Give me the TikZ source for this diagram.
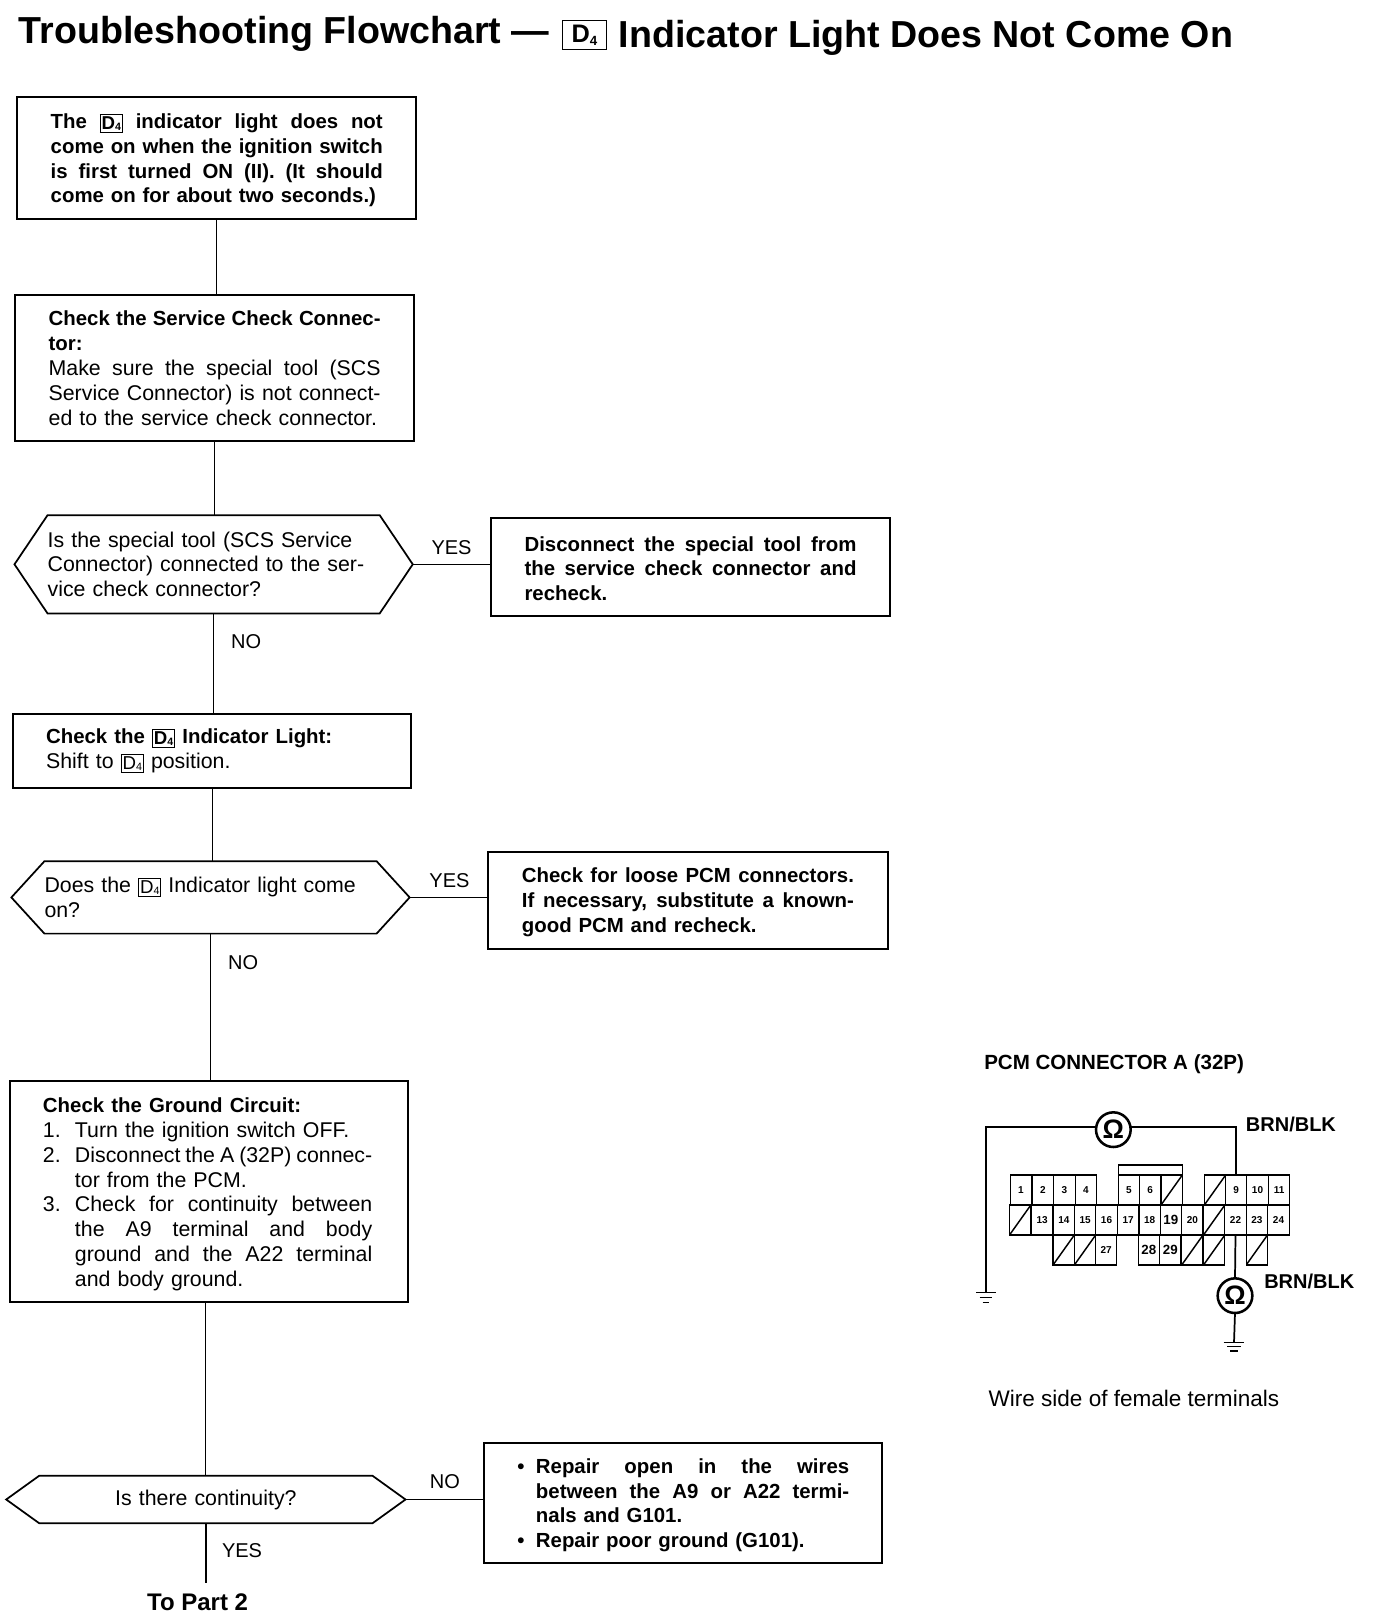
\documentclass[tikz,border=0pt]{standalone}
\usepackage{fontspec}
\setmainfont{Liberation Sans}
\usetikzlibrary{calc}
\newcommand\jl[2][249pt]{\makebox[#1][s]{\spaceskip=0pt\xspaceskip=0pt #2}}
\newcommand\Dfour{{\setlength\fboxsep{0.6pt}\setlength\fboxrule{0.8pt}\smash{\raisebox{-0.6pt}{\fbox{\fontsize{14}{14}\selectfont\rule[-1.5pt]{0pt}{11.5pt}D\raisebox{-1pt}{\fontsize{8}{8}\selectfont 4}}}}}}
\newcommand\topadj[1]{\rule{0pt}{#1}}
\tikzset{
  wh/.style 2 args={minimum width=#1*0.77586pt,minimum height=#2*0.77586pt},
  frame/.style={draw,line width=1.4pt,inner sep=0pt,outer sep=0pt,text width=249pt,align=left,font=\fontsize{16}{18.6}\selectfont},
  boldframe/.style={frame,font=\fontsize{15.3}{18.6}\selectfont\bfseries},
  hexbody/.style={inner sep=0pt,outer sep=0pt,text width=249pt,align=left,font=\fontsize{16}{18.6}\selectfont},
  link/.style={line width=0.8pt},
  hexline/.style={line width=1.3pt},
  lab/.style={inner sep=0pt,anchor=center,font=\fontsize{15}{18}\selectfont},
  cell/.style={draw,line width=0.9pt,inner sep=0pt,outer sep=0pt,minimum width=16pt,minimum height=22.5pt,font=\fontsize{7.5}{8}\selectfont\bfseries},
  bigcell/.style={cell,font=\fontsize{10}{10}\selectfont\bfseries},
  slashed/.style={cell,path picture={\draw[line width=1.1pt] (path picture bounding box.south west)--(path picture bounding box.north east);}},
  wire/.style={line width=1.3pt},
  meter/.style={circle,draw,line width=1.9pt,inner sep=0pt,outer sep=0pt,minimum size=26pt,font=\fontsize{20}{20}\selectfont\bfseries},
  txt/.style={inner sep=0pt,anchor=west}
}
\newcommand\hexa[1]{\draw[hexline] (#1.west) -- ([xshift=24.8pt]#1.north west) -- ([xshift=-24.8pt]#1.north east) -- (#1.east) -- ([xshift=-24.8pt]#1.south east) -- ([xshift=24.8pt]#1.south west) -- cycle;}
\begin{document}
\begin{tikzpicture}[x=0.77586pt,y=-0.77586pt]
\path[fill=white,use as bounding box] (0,0) rectangle (1330.13,1566);
% title
\node[txt,font=\fontsize{28.2}{30}\selectfont\bfseries] (t1) at (18,33) {Troubleshooting Flowchart ---};
\node[draw,line width=0.9pt,inner sep=0pt,wh={42}{28},font=\fontsize{19}{20}\selectfont\bfseries] (t2) at (565,34) {D\raisebox{-2pt}{\fontsize{10}{10}\selectfont 4}};
\node[txt,font=\fontsize{28.2}{30}\selectfont\bfseries] (t3) at (598,36.5) {Indicator Light Does Not Come On};
% boxes
\node[boldframe,wh={386}{118}] (b1) at (209.5,152.5) {\topadj{15pt}\jl{The \Dfour{} indicator light does not}\\\jl{come on when the ignition switch}\\\jl{is first turned ON (II). (It should}\\come on for about two seconds.)};
\node[frame,wh={386}{141}] (b2) at (207.5,356) {\textbf{\jl{\fontsize{15.3}{18.6}\selectfont Check the Service Check Connec-}}\\\textbf{\fontsize{15.3}{18.6}\selectfont tor:}\\\jl{Make sure the special tool (SCS}\\\jl{Service Connector) is not connect-}\\ed to the service check connector.};
\node[hexbody,wh={385}{95}] (d1) at (206.5,545.5) {Is the special tool (SCS Service\\Connector) connected to the ser-\\vice check connector?};
\hexa{d1}
\node[boldframe,wh={385}{95}] (b3) at (667.5,548) {\topadj{13.5pt}\jl{Disconnect the special tool from}\\\jl{the service check connector and}\\recheck.};
\node[frame,wh={385}{71}] (b4) at (205,726) {\textbf{\fontsize{15.3}{18.6}\selectfont Check the \Dfour{} Indicator Light:}\\Shift to \Dfour{} position.};
\node[hexbody,wh={385}{70}] (d2) at (203.5,867.5) {Does the \Dfour{} Indicator light come\\on?};
\hexa{d2}
\node[boldframe,wh={386}{94}] (b5) at (665,870.5) {\topadj{13.5pt}\jl{Check for loose PCM connectors.}\\\jl{If necessary, substitute a known-}\\good PCM and recheck.};
\node[frame,wh={385}{214}] (b6) at (202,1152) {\topadj{15pt}\textbf{\fontsize{15.3}{18.6}\selectfont Check the Ground Circuit:}\\
\makebox[24pt][l]{1.}Turn the ignition switch OFF.\\
\makebox[24pt][l]{2.}\jl[223pt]{Disconnect the A (32P) connec-}\\
\hspace*{24pt}tor from the PCM.\\
\makebox[24pt][l]{3.}\jl[223pt]{Check for continuity between}\\
\hspace*{24pt}\jl[223pt]{the A9 terminal and body}\\
\hspace*{24pt}\jl[223pt]{ground and the A22 terminal}\\
\hspace*{24pt}and body ground.};
\node[hexbody,wh={386}{46},align=center] (d3) at (199,1449.5) {Is there continuity?};
\hexa{d3}
\node[boldframe,wh={385}{116}] (b7) at (660.5,1452.5) {\topadj{15pt}\makebox[14pt][l]{•}\jl[235pt]{Repair open in the wires}\\
\hspace*{14pt}\jl[235pt]{between the A9 or A22 termi-}\\
\hspace*{14pt}nals and G101.\\
\makebox[14pt][l]{•}Repair poor ground (G101).};
% connectors
\draw[link] (b1.south) -- (b1.south |- b2.north);
\draw[link] (b2.south) -- (b2.south |- d1.north);
\draw[link] (d1.south) -- (d1.south |- b4.north);
\draw[link] (b4.south) -- (b4.south |- d2.north);
\draw[link] (d2.south) -- (d2.south |- b6.north);
\draw[link] (d3.north |- b6.south) -- (d3.north);
\coordinate (endd3) at (199,1530);
\draw[line width=1.2pt] (d3.south) -- (endd3);
\draw[link] (d1.east) -- (d1.east -| b3.west);
\draw[link] (d2.east) -- (d2.east -| b5.west);
\draw[link] (d3.east) -- (d3.east -| b7.west);
% labels
\node[lab] (y1) at (436.5,529) {YES};
\node[lab] (n1) at (238,620) {NO};
\node[lab] (y2) at (434.5,851) {YES};
\node[lab] (n2) at (235,931) {NO};
\node[lab] (n3) at (430,1432) {NO};
\node[lab] (y3) at (234,1499) {YES};
\node[lab,font=\fontsize{18}{20}\selectfont\bfseries] (part2) at (191,1549) {To Part 2};
% connector drawing, in zoomed px
\begin{scope}[shift={(720pt,-780pt)},x=0.25pt,y=-0.25pt]
\node[txt,font=\fontsize{15.4}{16}\selectfont\bfseries] (pcm) at (72,72) {PCM CONNECTOR A (32P)};
\node[txt,font=\fontsize{15}{16}\selectfont\bfseries] (bb1) at (857,252) {BRN/BLK};
\node[txt,font=\fontsize{15}{16}\selectfont\bfseries] (bb2) at (912,725) {BRN/BLK};
\node[txt,font=\fontsize{16.9}{17}\selectfont] (wire) at (85,1075) {Wire side of female terminals};
\node[draw,line width=0.9pt,inner sep=0pt,outer sep=0pt,minimum width=48pt,minimum height=7.5pt] (cap) at (571,390) {};
\foreach \x/\n in {183/1,248.5/2,313.5/3,378/4,506.5/5,570.5/6,828.5/9,892.5/10,957.5/11}
  \node[cell] (c\n) at (\x,450) {\n};
\foreach \x/\n in {635/7,765/8}
  \node[slashed] (c\n) at (\x,450) {};
\foreach \x/\n in {246.5/13,311.5/14,375.5/15,439.5/16,504.5/17,569/18,697/20,826.5/22,890.5/23,955.5/24}
  \node[cell] (c\n) at (\x,540) {\n};
\node[bigcell] (c19) at (632.5,540) {19};
\foreach \x/\n in {180.5/12,762.5/21}
  \node[slashed] (c\n) at (\x,540) {};
\foreach \x/\n in {311/25,375/26,697/30,762.5/31,890.5/32}
  \node[slashed] (c\n) at (\x,630) {};
\node[cell] (c27) at (438.5,630) {27};
\node[bigcell] (c28) at (566.5,630) {28};
\node[bigcell] (c29) at (631,630) {29};
\node[meter] (om1) at (460,269) {Ω};
\node[meter] (om2) at (825,767) {Ω};
\coordinate (gnd1) at (78,757);
\coordinate (gnd2) at (822,908);
\draw[line width=1.6pt] (om1.170) -| (gnd1);
\draw[wire] (om1.10) -| (c9.north);
\draw[wire] (c22.south) -- (om2.north);
\draw[wire] (om2.south) -- (gnd2);
\draw[line width=1.1pt] (gnd1)+(-30,0) -- +(30,0) (gnd1)+(-19,15) -- +(19,15) (gnd1)+(-10,30) -- +(10,30);
\draw[line width=1.1pt] (gnd2)+(-31,0) -- +(31,0) (gnd2)+(-20,12) -- +(20,12) (gnd2)+(-12,25) -- +(12,25);
\end{scope}
\end{tikzpicture}
\end{document}
